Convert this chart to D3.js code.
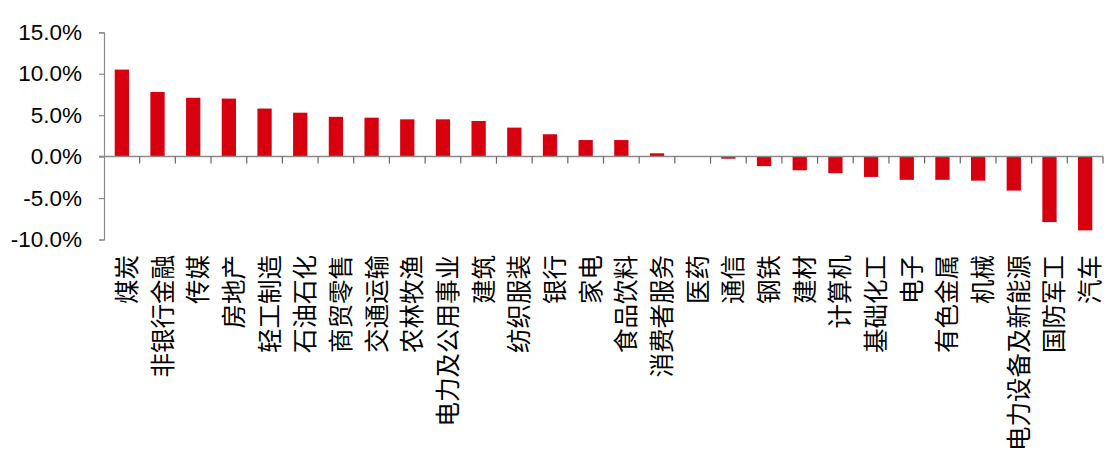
<!DOCTYPE html>
<html>
<head>
<meta charset="utf-8">
<script src="https://cdn.jsdelivr.net/npm/d3@7"></script>
<style>
  html, body { margin: 0; padding: 0; background: #ffffff; }
  svg { display: block; }
</style>
</head>
<body>
<div id="chart"></div>
<script>
const categories = ["煤炭","非银行金融","传媒","房地产","轻工制造","石油石化","商贸零售","交通运输","农林牧渔","电力及公用事业","建筑","纺织服装","银行","家电","食品饮料","消费者服务","医药","通信","钢铁","建材","计算机","基础化工","电子","有色金属","机械","电力设备及新能源","国防军工","汽车"];
const values = [10.5, 7.8, 7.1, 7.0, 5.8, 5.3, 4.8, 4.7, 4.5, 4.5, 4.3, 3.5, 2.7, 2.0, 2.0, 0.4, 0.06, -0.25, -1.15, -1.65, -2.0, -2.45, -2.8, -2.8, -2.9, -4.1, -7.9, -8.9];
const yTicks = [-10, -5, 0, 5, 10, 15];

const W = 1116, H = 459;
const svg = d3.select("#chart").append("svg").attr("width", W).attr("height", H);

const x = d3.scaleBand().domain(categories).range([104, 1103]).paddingInner(0.6).paddingOuter(0.3);
const y = d3.scaleLinear().domain([-10, 15]).range([239.5, 32.3]);

const axisColor = "#8a8a8a";

// bars
svg.append("g").selectAll("rect").data(values).join("rect")
  .attr("x", (d, i) => x(categories[i]))
  .attr("width", x.bandwidth())
  .attr("y", d => y(Math.max(0, d)))
  .attr("height", d => Math.abs(y(d) - y(0)))
  .attr("fill", "#d7000f");

// y axis
const yAxis = svg.append("g").attr("transform", "translate(104,0)")
  .call(d3.axisLeft(y).tickValues(yTicks).tickSize(5).tickPadding(17).tickFormat(v => v.toFixed(1) + "%"));
yAxis.select(".domain").attr("stroke", axisColor).attr("stroke-width", 1.2);
yAxis.selectAll(".tick line").attr("stroke", axisColor).attr("stroke-width", 1.2);
yAxis.selectAll(".tick text")
  .attr("fill", "#000")
  .style("font-family", "'Liberation Sans', Arial, sans-serif")
  .style("font-size", "22.5px");

// x axis (zero line) with tick marks at band boundaries
const step = x.step();
const bounds = d3.range(1, categories.length + 1).map(i => 104 + i * step);
const xg = svg.append("g");
xg.append("line").attr("x1", 99).attr("x2", 1103).attr("y1", y(0)).attr("y2", y(0))
  .attr("stroke", axisColor).attr("stroke-width", 1.5);
xg.selectAll("line.tk").data(bounds).join("line").attr("class", "tk")
  .attr("x1", d => d).attr("x2", d => d)
  .attr("y1", y(0)).attr("y2", y(0) + 7)
  .attr("stroke", "#666").attr("stroke-width", 1.2);

// category labels (rotated -90°, top-aligned)
svg.append("g").selectAll("text").data(categories).join("text")
  .attr("transform", d => `translate(${x(d) + x.bandwidth() / 2 + 3.5},255) rotate(-90)`)
  .attr("text-anchor", "end")
  .attr("dominant-baseline", "central")
  .style("font-family", "'Noto Sans CJK SC', sans-serif")
  .style("font-size", "24.5px")
  .attr("fill", "#000")
  .text(d => d);
</script>
</body>
</html>
